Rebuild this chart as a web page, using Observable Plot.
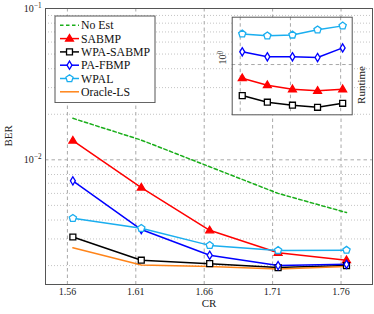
<!DOCTYPE html>
<html><head><meta charset="utf-8">
<script src="https://cdn.jsdelivr.net/npm/d3@7"></script>
<script src="https://cdn.jsdelivr.net/npm/@observablehq/plot@0.6"></script>
<style>
body{margin:0;background:#fff;}
#wrap{position:relative;width:374px;height:314px;overflow:hidden;font-family:'Liberation Serif',serif;}
#wrap svg{position:absolute;}
#wrap svg text{font-family:'Liberation Serif',serif !important;}
</style></head><body><div id="wrap"></div>
<script>
// ---- data ----
const cr = [1.564, 1.614, 1.664, 1.714, 1.764];
const crTicks = [1.56, 1.61, 1.66, 1.71, 1.76];
const insetTicks = [1.56, 1.66, 1.76];
const berNoEst    = [0.0188, 0.0135, 0.0090, 0.0060, 0.00448];
const berSABMP    = [0.0134, 0.00656, 0.00342, 0.00243, 0.00217];
const berWPASABMP = [0.00309, 0.00217, 0.00206, 0.00194, 0.00200];
const berPAFBMP   = [0.00726, 0.00346, 0.00234, 0.00200, 0.00204];
const berWPAL     = [0.00411, 0.00353, 0.00272, 0.00252, 0.00253];
const berOracle   = [0.00262, 0.00202, 0.00197, 0.00190, 0.00197];
const rtSABMP     = [0.724, 0.614, 0.558, 0.538, 0.558];
const rtWPASABMP  = [0.481, 0.411, 0.383, 0.365, 0.401];
const rtPAFBMP    = [1.35, 1.20, 1.20, 1.18, 1.48];
const rtWPAL      = [2.06, 1.97, 2.01, 2.27, 2.49];
const seriesNames = ["No Est", "SABMP", "WPA-SABMP", "PA-FBMP", "WPAL", "Oracle-LS"];
const yMajor = [0.01, 0.1];
const yMinor = [0.002,0.003,0.004,0.005,0.006,0.007,0.008,0.009,0.02,0.03,0.04,0.05,0.06,0.07,0.08,0.09];

// ---- styles ----
const FONT = "'Liberation Serif', serif";
const C = {green:"#1aae1a", red:"#ff0000", black:"#000000", blue:"#0000ff", cyan:"#1aaeef", orange:"#ff8419"};
const pentagon = {draw(ctx, size){ const r = Math.sqrt(size/Math.PI)*1.15;
  for(let k=0;k<5;k++){ const a = -Math.PI/2 + k*2*Math.PI/5; const x=r*Math.cos(a), y=r*Math.sin(a);
    if(k===0) ctx.moveTo(x,y); else ctx.lineTo(x,y);} ctx.closePath(); }};
const thinDiamond = {draw(ctx, size){ const r = Math.sqrt(size/Math.PI)*1.25;
  ctx.moveTo(0,-r); ctx.lineTo(r*0.6,0); ctx.lineTo(0,r); ctx.lineTo(-r*0.6,0); ctx.closePath(); }};
const tri = {draw(ctx, size){ const r = Math.sqrt(size/Math.PI)*1.25;
  ctx.moveTo(0,-r); ctx.lineTo(r*0.95,r*0.6); ctx.lineTo(-r*0.95,r*0.6); ctx.closePath(); }};
const sq = {draw(ctx, size){ const r = Math.sqrt(size/Math.PI)*0.9; ctx.rect(-r,-r,2*r,2*r); }};

const series = [
  {name:seriesNames[0], vals:berNoEst, color:C.green, dash:"3.5,2.5", sym:null},
  {name:seriesNames[1], vals:berSABMP, color:C.red, sym:tri, fill:C.red, rt:rtSABMP},
  {name:seriesNames[2], vals:berWPASABMP, color:C.black, sym:sq, fill:"#fff", rt:rtWPASABMP},
  {name:seriesNames[3], vals:berPAFBMP, color:C.blue, sym:thinDiamond, fill:"#fff", rt:rtPAFBMP},
  {name:seriesNames[4], vals:berWPAL, color:C.cyan, sym:pentagon, fill:"#fff", rt:rtWPAL},
  {name:seriesNames[5], vals:berOracle, color:C.orange, sym:null}
];
const rows = (vals) => cr.map((x,i)=>({x, y: vals[i]}));

const dashMajor = "3.5,3";
const gridCol = "#a8a8a8";

const marks = [
  Plot.ruleY(yMinor, {stroke:"#c4c4c4", strokeDasharray:"1,2"}),
  Plot.ruleY(yMajor, {stroke:gridCol, strokeDasharray:dashMajor}),
  Plot.ruleX(crTicks, {stroke:gridCol, strokeDasharray:dashMajor}),
  Plot.frame({stroke:"#555"}),
  Plot.axisX({ticks:crTicks, tickFormat:d3.format(".2f"), tickSize:0, tickPadding:3, label:null, fontSize:10}),
  Plot.axisY({ticks:yMajor, tickFormat:d=>String(Math.round(Math.log10(d))), tickSize:0, tickPadding:4, label:null, fontSize:10}),
];
for (const s of series) {
  marks.push(Plot.line(rows(s.vals), {x:"x", y:"y", stroke:s.color, strokeWidth:1.5, strokeDasharray:s.dash}));
}
for (const s of series) {
  if (s.sym) marks.push(Plot.dot(rows(s.vals), {x:"x", y:"y", symbol:s.sym, r:3.3, stroke:s.color, fill:s.fill, strokeWidth:1.3}));
}
marks.push(Plot.text(["CR"], {frameAnchor:"bottom", dy:22, fontSize:11}));
marks.push(Plot.text(["BER"], {frameAnchor:"left", rotate:-90, dx:-37, fontSize:11}));

const main = Plot.plot({
  width:374, height:314, marginLeft:45, marginRight:2, marginTop:8, marginBottom:30,
  style:{fontFamily:FONT, fontSize:"10px", background:"transparent", color:"#222"},
  x:{domain:[1.544, 1.783]},
  y:{type:"log", domain:[0.0015, 0.1]},
  marks
});
main.style.left = "0px"; main.style.top = "0px";
document.getElementById("wrap").appendChild(main);

d3.select(main).selectAll('g[aria-label="y-axis tick label"] text').each(function(){
  const e = this.textContent; const t = d3.select(this);
  t.text("10");
  t.append("tspan").attr("dy","-0.5em").attr("font-size","0.72em").text("\u2212" + e.replace("-",""));
});

// ---- inset ----
const insetMarks = [
  Plot.frame({fill:"#fff"}),
  Plot.ruleX(insetTicks, {stroke:gridCol, strokeDasharray:dashMajor}),
  Plot.ruleY([1], {stroke:gridCol, strokeDasharray:dashMajor}),
  Plot.frame({stroke:"#555"}),
];
for (const s of series) if (s.rt) insetMarks.push(Plot.line(rows(s.rt), {x:"x", y:"y", stroke:s.color, strokeWidth:1.5}));
for (const s of series) if (s.rt) insetMarks.push(Plot.dot(rows(s.rt), {x:"x", y:"y", symbol:s.sym, r:3.3, stroke:s.color, fill:s.fill, strokeWidth:1.3}));
insetMarks.push(Plot.text([1], {y:d=>d, frameAnchor:"left", text:()=>"10", rotate:-90, dx:-9, fontSize:10}));
insetMarks.push(Plot.text(["Runtime"], {frameAnchor:"right", rotate:-90, dx:9, fontSize:11}));
const inset = Plot.plot({
  width:160, height:110, marginLeft:16.7, marginTop:6.7, marginRight:23.3, marginBottom:5.7,
  style:{fontFamily:FONT, fontSize:"10px", background:"transparent", color:"#222", overflow:"visible"},
  x:{domain:[1.544, 1.783], axis:null},
  y:{type:"log", domain:[Math.pow(10,-0.515), Math.pow(10,0.485)], axis:null},
  marks: insetMarks
});
inset.style.left = "215px"; inset.style.top = "10px";
document.getElementById("wrap").appendChild(inset);
d3.select(inset).selectAll("text").each(function(){
  if (this.textContent === "10") d3.select(this).append("tspan").attr("dy","-0.5em").attr("font-size","0.72em").text("0");
});

// ---- legend ----
const L = {left:55, top:15.7, w:100, h:86.6, step:13.3, first:9.3};
const lg = d3.create("svg").attr("width", L.w+2).attr("height", L.h+2)
  .style("left", (L.left-1)+"px").style("top", (L.top-1)+"px").style("position","absolute");
lg.append("rect").attr("x",1).attr("y",1).attr("width",L.w).attr("height",L.h).attr("fill","#fff").attr("stroke","#555");
series.forEach((s,i)=>{
  const cy = 1 + L.first + i*L.step;
  lg.append("line").attr("x1",6).attr("x2",25).attr("y1",cy).attr("y2",cy).attr("stroke",s.color).attr("stroke-width",1.5).attr("stroke-dasharray", s.dash || null);
  if (s.sym) lg.append("path").attr("transform",`translate(15.5,${cy})`).attr("d", d3.symbol(s.sym, Math.PI*3.3*3.3)()).attr("stroke",s.color).attr("fill",s.fill).attr("stroke-width",1.3);
  lg.append("text").attr("x",27).attr("y",cy).attr("dy","0.35em").attr("font-family",FONT).attr("font-size","11.8px").attr("fill","#111").text(s.name);
});
document.getElementById("wrap").appendChild(lg.node());
</script></body></html>
